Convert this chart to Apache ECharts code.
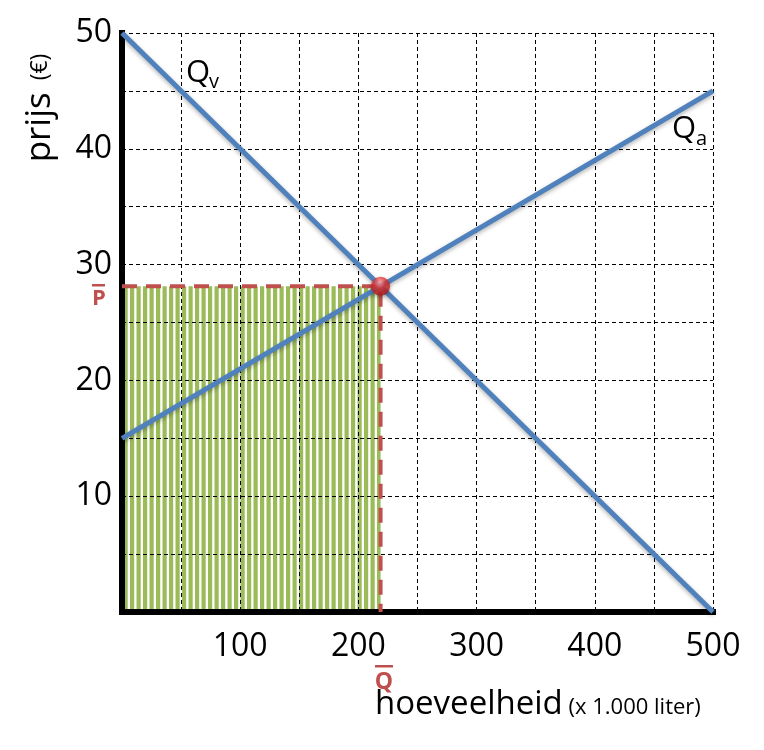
<!DOCTYPE html>
<html>
<head>
<meta charset="utf-8">
<script src="https://cdn.jsdelivr.net/npm/echarts@6/dist/echarts.min.js"></script>
<style>html,body{margin:0;padding:0;background:#fff;}#c{width:764px;height:750px;}</style>
</head>
<body>
<div id="c"></div>
<script>
// ---- data ----
const demandLine = [[0, 50], [500, 0]];      // Qv
const supplyLine = [[0, 15], [500, 45]];     // Qa
const eqQuantity = 218.75;
const eqPrice = 28.125;
const xTickLabels = [100, 200, 300, 400, 500];
const yTickLabels = [10, 20, 30, 40, 50];

const FONT = 'Open Sans';
const BLUE = '#4F81BD';
const RED = '#C0504D';
const GREEN = '#9BBB59';

// stripe pattern
const pc = document.createElement('canvas');
pc.width = 13; pc.height = 10;
const pctx = pc.getContext('2d');
pctx.fillStyle = GREEN;
pctx.fillRect(0, 0, 4.2, 10);
pctx.fillRect(6.5, 0, 4.2, 10);
const stripePattern = { image: pc, repeat: 'repeat' };

const chart = echarts.init(document.getElementById('c'), null, { renderer: 'canvas' });

const option = {
  animation: false,
  backgroundColor: '#fff',
  grid: { left: 122, right: 51, top: 33, bottom: 138 },
  xAxis: {
    type: 'value', min: 0, max: 500, interval: 50,
    axisLine: { show: true, onZero: false, lineStyle: { color: '#000', width: 6, cap: 'square' } },
    axisTick: { show: false },
    splitLine: { show: true, lineStyle: { color: '#000', width: 1, type: [4, 3] } },
    axisLabel: {
      margin: 19, fontFamily: FONT, fontSize: 32, color: '#000',
      formatter: v => (xTickLabels.indexOf(v) >= 0 ? String(v) : '')
    }
  },
  yAxis: {
    type: 'value', min: 0, max: 50, interval: 5,
    axisLine: { show: true, onZero: false, lineStyle: { color: '#000', width: 6, cap: 'square' } },
    axisTick: { show: false },
    splitLine: { show: true, lineStyle: { color: '#000', width: 1, type: [4, 3] } },
    axisLabel: {
      margin: 10, fontFamily: FONT, fontSize: 32, color: '#000',
      formatter: v => (yTickLabels.indexOf(v) >= 0 ? String(v) : '')
    }
  },
  series: [
    {
      type: 'custom', z: -1, silent: true,
      encode: { x: [0, 2], y: [1, 3] },
      data: [[0, 0, eqQuantity, eqPrice]],
      renderItem: function (params, api) {
        const p0 = api.coord([api.value(0), api.value(1)]);
        const p1 = api.coord([api.value(2), api.value(3)]);
        return {
          type: 'rect',
          shape: { x: p0[0], y: p1[1], width: p1[0] - p0[0], height: p0[1] - p1[1] },
          style: { fill: stripePattern }
        };
      }
    },
    {
      type: 'line', z: 3, symbol: 'none', clip: false,
      data: [[0, eqPrice], [eqQuantity, eqPrice], [eqQuantity, 0]],
      lineStyle: { color: RED, width: 4, type: [15, 9] }
    },
    {
      type: 'line', z: 4, symbol: 'none', clip: false,
      data: demandLine,
      lineStyle: { color: BLUE, width: 5, shadowColor: 'rgba(0,0,0,0.3)', shadowBlur: 4, shadowOffsetY: 2 }
    },
    {
      type: 'line', z: 4, symbol: 'none', clip: false,
      data: supplyLine,
      lineStyle: { color: BLUE, width: 5, shadowColor: 'rgba(0,0,0,0.3)', shadowBlur: 4, shadowOffsetY: 2 }
    },
    {
      type: 'scatter', z: 5, symbolSize: 19,
      data: [[eqQuantity, eqPrice]],
      itemStyle: {
        color: new echarts.graphic.RadialGradient(0.45, 0.3, 0.75, [
          { offset: 0, color: '#ffb0b0' },
          { offset: 0.4, color: '#e43434' },
          { offset: 1, color: '#a01616' }
        ]),
        shadowColor: 'rgba(0,0,0,0.35)', shadowBlur: 4, shadowOffsetY: 2
      }
    }
  ],
  graphic: [
    { type: 'text', x: 40, y: 108, rotation: Math.PI / 2,
      style: { text: '{a|prijs}{b|  (€)}', align: 'center', verticalAlign: 'middle',
        rich: { a: { fontFamily: FONT, fontSize: 35, fill: '#000' }, b: { fontFamily: FONT, fontSize: 23, fill: '#000' } } } },
    { type: 'text', x: 375, y: 705,
      style: { text: '{a|hoeveelheid}{b| (x 1.000 liter)}', align: 'left', verticalAlign: 'middle',
        rich: { a: { fontFamily: FONT, fontSize: 33, fill: '#000' }, b: { fontFamily: FONT, fontSize: 22, fill: '#000', padding: [6, 0, 0, 0] } } } },
    { type: 'text', x: 198, y: 73, style: { text: 'Q', fontFamily: FONT, fontSize: 31, fill: '#000', align: 'center', verticalAlign: 'middle' } },
    { type: 'text', x: 209, y: 82, style: { text: 'v', fontFamily: FONT, fontSize: 20, fill: '#000', align: 'left', verticalAlign: 'middle' } },
    { type: 'text', x: 684, y: 129, style: { text: 'Q', fontFamily: FONT, fontSize: 31, fill: '#000', align: 'center', verticalAlign: 'middle' } },
    { type: 'text', x: 696, y: 139, style: { text: 'a', fontFamily: FONT, fontSize: 20, fill: '#000', align: 'left', verticalAlign: 'middle' } },
    { type: 'text', x: 99, y: 299, style: { text: 'P', fontFamily: FONT, fontWeight: 'bold', fontSize: 22, fill: RED, align: 'center', verticalAlign: 'middle' } },
    { type: 'rect', shape: { x: 92, y: 284, width: 13, height: 2.5 }, style: { fill: RED } },
    { type: 'text', x: 384, y: 682, style: { text: 'Q', fontFamily: FONT, fontWeight: 'bold', fontSize: 23, fill: RED, align: 'center', verticalAlign: 'middle' } },
    { type: 'rect', shape: { x: 375, y: 665, width: 18, height: 2.5 }, style: { fill: RED } }
  ]
};
chart.setOption(option);
</script>
</body>
</html>
